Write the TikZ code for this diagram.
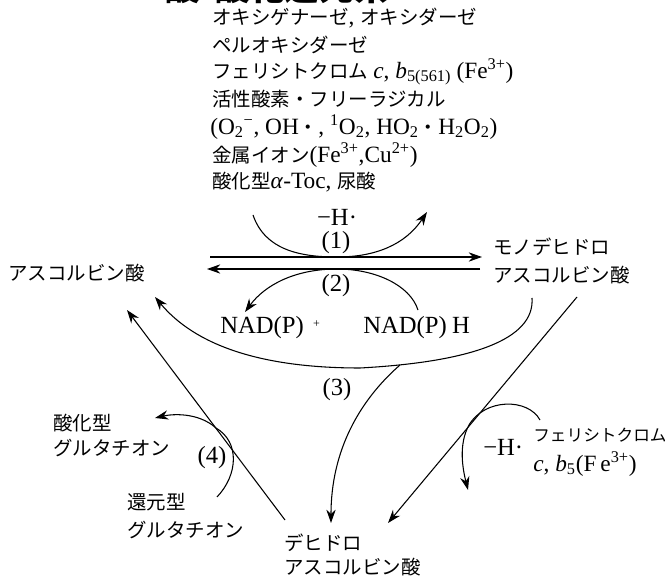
\documentclass[tikz,border=0pt]{standalone}
\usepackage{fontspec}
\setmainfont{Liberation Serif}
\newfontfamily\jpfam{Noto Sans CJK JP}
\usetikzlibrary{arrows.meta}
\newcommand{\jp}{\jpfam\fontsize{14.6}{18}\selectfont}
\newcommand{\jps}{\jpfam\fontsize{12.5}{16}\selectfont}
\newcommand{\latbig}{\fontsize{18.5}{22}\selectfont}
\newcommand{\latlist}{\fontsize{17.5}{21}\selectfont}
\newcommand{\latmid}{\fontsize{17.5}{20}\selectfont}
\begin{document}
\begin{tikzpicture}[x=0.75pt,y=-0.75pt,
  arr/.style={-{Stealth[length=10pt,width=7pt]}, line width=0.8pt},
  tx/.style={inner sep=0pt, anchor=west, font=\latbig},
  lst/.style={inner sep=0pt, anchor=west, font=\latlist},
  lab/.style={inner sep=0pt, font=\latbig}]
\useasboundingbox (0,0) rectangle (665,581);
% cut-off title
\node[inner sep=0pt, anchor=base west, font=\jpfam\bfseries\fontsize{26}{30}\selectfont] (ttl) at (165,1) {酸\makebox[0.45em]{・}酸化還元系};
% list
\node[lst] (l1) at (212,18) {{\jp オキシゲナーゼ}, {\jp オキシダーゼ}};
\node[lst] (l2) at (212,45) {{\jp ペルオキシダーゼ}};
\node[lst] (l3) at (212,72) {{\jp フェリシトクロム}\hspace{4pt}\textit{c}, \textit{b}\textsubscript{5(561)}\hspace{4pt}(Fe\textsuperscript{3+})};
\node[lst] (l4) at (212,99) {{\jp 活性酸素・フリーラジカル}};
\node[lst] (l5) at (210,127) {(O\textsubscript{2}\textsuperscript{−}, OH{\jp ・}, \textsuperscript{1}O\textsubscript{2}, HO\textsubscript{2}{\jp ・}H\textsubscript{2}O\textsubscript{2})};
\node[lst] (l6) at (212,155) {{\jp 金属イオン}(Fe\textsuperscript{3+},Cu\textsuperscript{2+})};
\node[lst] (l7) at (212,182) {{\jp 酸化型}\textit{α}-Toc, {\jp 尿酸}};
% main
\node[tx] (asc) at (8,273) {{\jp アスコルビン酸}};
\node[tx] (mono) at (493,247) {{\jp モノデヒドロ}};
\node[tx] (mono2) at (493,275) {{\jp アスコルビン酸}};
\node[lab] (h1) at (337,217) {−H·};
\node[lab] (n1) at (336,243) {(1)};
\node[lab] (n2) at (336,286) {(2)};
\node[tx] (nadp) at (220,328) {NAD(P)\hspace{7pt}\raisebox{5pt}{\fontsize{9}{9}\selectfont +}};
\node[tx] (nadh) at (363,328) {NAD(P)\hspace{4pt}H};
\node[lab] (n3) at (337,390) {(3)};
\node[tx] (ox) at (53,423) {{\jp 酸化型}};
\node[tx] (gsg) at (53,448) {{\jp グルタチオン}};
\node[lab] (n4) at (212,458) {(4)};
\node[tx] (red) at (127,502) {{\jp 還元型}};
\node[tx] (gsh) at (127,530) {{\jp グルタチオン}};
\node[tx] (dha) at (284,543) {{\jp デヒドロ}};
\node[tx] (dha2) at (284,567) {{\jp アスコルビン酸}};
\node[tx] (h2) at (483,447) {−H·};
\node[tx] (fc) at (533,435) {{\jps フェリシトクロム}};
\node[tx, font=\latmid] (fc2) at (533,464) {\textit{c}, \textit{b}\textsubscript{5}(F\,e\textsuperscript{3+})};
% coordinates
\coordinate (a1s) at (253,215);
\coordinate (a1m) at (337,257);
\coordinate (a1e) at (427,212);
\coordinate (t1) at (210,257);
\coordinate (t2) at (482,257);
\coordinate (b1) at (480,269);
\coordinate (b2) at (207,269);
\coordinate (a2s) at (418,310);
\coordinate (a2m) at (337,269);
\coordinate (a2e) at (245,312);
\coordinate (cs) at (532,298);
\coordinate (cm) at (360,368);
\coordinate (ce) at (155,297);
\coordinate (j3) at (400,365);
\coordinate (e3) at (331,523);
\coordinate (rl1) at (577,297);
\coordinate (rl2) at (388,523);
\coordinate (ll1) at (285,520);
\coordinate (ll2) at (127,310);
\coordinate (g1) at (217,497);
\coordinate (g2) at (216,428);
\coordinate (g3) at (155,418);
\coordinate (f1) at (540,420);
\coordinate (f2) at (469,425);
\coordinate (f3) at (468,490);
% connectors
\draw[arr] (a1s) .. controls (265,250) and (300,257) .. (a1m) .. controls (375,257) and (405,245) .. (a1e);
\draw[arr] (t1) -- (t2);
\draw[arr] (b1) -- (b2);
\draw[arr] (a2s) .. controls (410,285) and (375,269) .. (a2m) .. controls (295,269) and (265,285) .. (a2e);
\draw[arr] (cs) .. controls (535,340) and (470,362) .. (cm) .. controls (260,368) and (195,345) .. (ce);
\draw[arr] (j3) .. controls (360,400) and (331,450) .. (e3);
\draw[arr] (rl1) -- (rl2);
\draw[arr] (ll1) -- (ll2);
\draw[arr] (g1) .. controls (238,475) and (240,442) .. (g2) .. controls (198,412) and (172,414) .. (g3);
\draw[arr] (f1) .. controls (528,398) and (485,398) .. (f2) .. controls (458,445) and (463,470) .. (f3);
\end{tikzpicture}
\end{document}
